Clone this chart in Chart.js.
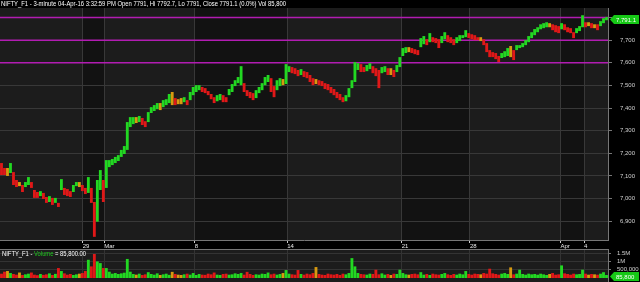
<!DOCTYPE html>
<html>
<head>
<meta charset="utf-8">
<script src="https://cdn.jsdelivr.net/npm/chart.js@4.4.0/dist/chart.umd.min.js"></script>
<style>
  html, body { margin: 0; padding: 0; background: #000; }
  canvas { display: block; }
</style>
</head>
<body>
<canvas id="priceChart" width="640" height="249"></canvas>
<canvas id="volChart" width="640" height="33"></canvas>
<script>
// date axis: labels and where they sit (bar index)
const dateLabels = ['29', 'Mar', '8', '14', '21', '28', 'Apr', '4'];
const dateTicks = [27.1, 34.3, 64.5, 95.4, 133.6, 156.4, 186.6, 194.5];
const priceTicks = [6900, 7000, 7100, 7200, 7300, 7400, 7500, 7600, 7700, 7800];
const hLines = [7600, 7700, 7800];
const volTicks = [500, 1000, 1500];
const volTickLabels = ['500,000', '1M', '1.5M'];

const headerText = 'NIFTY_F1 - 3-minute 04-Apr-16 3:32:59 PM Open 7791, Hi 7792.7, Lo 7791, Close 7791.1 (0.0%) Vol 85,800';
const lastClose = 7791.1;
const lastVolume = 85.8; // thousands

// high / low of each bar
const highs = [
  7157, 7135, 7135, 7157, 7117, 7082, 7073, 7060, 7073, 7095,
  7073, 7038, 7029, 7033, 7025, 7007, 7011, 7003, 7003, 6981,
  7086, 7047, 7042, 7033, 7060, 7073, 7073, 7060, 7047, 7095,
  7047, 6985, 7082, 7126, 7082, 7170, 7170, 7175, 7184, 7192,
  7215, 7232, 7338, 7360, 7360, 7360, 7365, 7356, 7342, 7382,
  7404, 7413, 7422, 7422, 7435, 7439, 7462, 7471, 7444, 7439,
  7444, 7448, 7435, 7471, 7493, 7501, 7501, 7493, 7488, 7475,
  7462, 7448, 7457, 7462, 7457, 7448, 7484, 7506, 7523, 7537,
  7585, 7510, 7479, 7471, 7466, 7479, 7493, 7510, 7537, 7546,
  7532, 7497, 7523, 7532, 7528, 7594, 7585, 7581, 7576, 7568,
  7572, 7563, 7559, 7546, 7532, 7528, 7523, 7519, 7510, 7506,
  7493, 7484, 7471, 7462, 7448, 7457, 7488, 7523, 7603, 7598,
  7594, 7581, 7590, 7598, 7585, 7576, 7568, 7581, 7585, 7576,
  7576, 7568, 7590, 7625, 7665, 7669, 7669, 7665, 7660, 7656,
  7709, 7718, 7704, 7731, 7713, 7709, 7704, 7718, 7735, 7722,
  7713, 7704, 7713, 7722, 7722, 7744, 7731, 7726, 7722, 7713,
  7713, 7704, 7687, 7656, 7647, 7643, 7630, 7643, 7651, 7665,
  7674, 7656, 7678, 7678, 7687, 7700, 7718, 7735, 7749, 7757,
  7770, 7775, 7779, 7775, 7770, 7766, 7762, 7775, 7770, 7757,
  7753, 7735, 7753, 7762, 7810, 7779, 7779, 7775, 7770, 7770,
  7784, 7797, 7802
];
const lows = [
  7104, 7104, 7100, 7113, 7060, 7051, 7055, 7029, 7051, 7060,
  7047, 7003, 7003, 7011, 6998, 6981, 6985, 6972, 6981, 6963,
  7038, 7016, 7011, 7007, 7029, 7055, 7051, 7033, 7020, 7025,
  6981, 6831, 6898, 7038, 6985, 7047, 7139, 7148, 7157, 7166,
  7184, 7197, 7215, 7316, 7329, 7334, 7338, 7325, 7316, 7338,
  7378, 7387, 7395, 7391, 7404, 7413, 7422, 7413, 7413, 7417,
  7417, 7426, 7413, 7435, 7457, 7471, 7479, 7471, 7466, 7457,
  7439, 7422, 7430, 7435, 7426, 7426, 7457, 7471, 7497, 7510,
  7501, 7471, 7453, 7444, 7435, 7444, 7466, 7479, 7501, 7515,
  7471, 7448, 7479, 7497, 7501, 7506, 7559, 7554, 7550, 7541,
  7546, 7537, 7532, 7515, 7501, 7506, 7501, 7497, 7484, 7479,
  7466, 7457, 7444, 7435, 7426, 7430, 7448, 7488, 7515, 7568,
  7559, 7559, 7563, 7572, 7554, 7541, 7488, 7554, 7559, 7546,
  7546, 7537, 7559, 7581, 7630, 7643, 7647, 7643, 7638, 7634,
  7669, 7682, 7678, 7691, 7691, 7687, 7665, 7687, 7704, 7691,
  7687, 7678, 7687, 7696, 7709, 7713, 7709, 7704, 7700, 7700,
  7696, 7678, 7647, 7625, 7625, 7616, 7603, 7621, 7625, 7630,
  7625, 7612, 7656, 7665, 7669, 7678, 7691, 7709, 7722, 7735,
  7748, 7753, 7757, 7757, 7744, 7735, 7731, 7748, 7744, 7735,
  7731, 7709, 7731, 7740, 7757, 7757, 7762, 7753, 7753, 7744,
  7762, 7775, 7788
];
// volume per bar, thousands
const volume = [
  260, 380, 420, 300, 240, 200, 330, 180, 220, 260,
  330, 200, 170, 240, 190, 220, 280, 180, 250, 600,
  420, 280, 200, 240, 180, 220, 260, 300, 420, 1100,
  700, 1450, 1000, 900, 600, 600, 380, 260, 300, 240,
  280, 320, 1150, 380, 240, 200, 260, 180, 220, 350,
  240, 200, 280, 180, 220, 260, 190, 370, 240, 200,
  180, 220, 260, 200, 300, 180, 240, 200, 190, 260,
  220, 330, 200, 180, 240, 260, 200, 220, 280, 240,
  300, 200, 370, 240, 180, 220, 200, 260, 240, 330,
  220, 260, 200, 240, 300, 480, 260, 220, 200, 480,
  240, 200, 260, 220, 300, 660, 240, 200, 180, 260,
  220, 200, 240, 180, 260, 220, 300, 1200, 700, 300,
  240, 220, 200, 260, 240, 500, 220, 280, 200, 240,
  180, 260, 240, 500, 300, 220, 200, 240, 260, 220,
  350, 200, 240, 180, 260, 220, 200, 240, 300, 220,
  180, 240, 200, 260, 220, 420, 240, 200, 260, 240,
  220, 300, 260, 560, 280, 240, 200, 260, 300, 240,
  640, 220, 260, 500, 240, 200, 260, 220, 240, 200,
  260, 220, 180, 240, 300, 200, 220, 760, 280, 240,
  200, 260, 220, 240, 500, 260, 200, 240, 220, 200,
  260, 350, 180
];

const UP = '#22d822', DOWN = '#e01818', FLAT = '#d89a10';
const barColors = highs.map((h, i) => {
  if (i === 0) return DOWN;
  const d = (h + lows[i]) - (highs[i - 1] + lows[i - 1]);
  return d > 6 ? UP : d < -6 ? DOWN : FLAT;
});

const xMin = -0.5, xMax = highs.length - 0.5;
Chart.defaults.font.family = 'Liberation Sans';
Chart.defaults.animation = false;

// keep chart.js from reserving room for edge labels
const noPadX = s => { s.paddingLeft = 0; s.paddingRight = 0; };
const noPadY = s => { s.paddingTop = 0; s.paddingBottom = 0; };

const panelBg = {
  id: 'panelBg',
  beforeDraw(chart, args, opts) {
    const { ctx, chartArea: a } = chart;
    const x = chart.scales.x;
    ctx.save();
    ctx.fillStyle = '#000';
    ctx.fillRect(0, 0, chart.width, chart.height);
    ctx.fillStyle = '#1c1c1c';
    ctx.fillRect(a.left, a.top, a.width, (opts.toBottom ? chart.height : a.bottom) - a.top);
    if (opts.bands) {
      ctx.fillStyle = '#121212';
      for (let k = 0; k + 1 < dateTicks.length; k += 2) {
        const x0 = x.getPixelForValue(dateTicks[k]);
        const x1 = x.getPixelForValue(dateTicks[k + 1]);
        ctx.fillRect(x0, a.top, x1 - x0, a.height);
      }
    }
    ctx.restore();
  }
};

function valueBox(ctx, text, left, y) {
  ctx.save();
  ctx.fillStyle = '#16c816';
  ctx.beginPath();
  ctx.moveTo(left, y);
  ctx.lineTo(left + 4, y - 4.5);
  ctx.lineTo(639, y - 4.5);
  ctx.lineTo(639, y + 4.5);
  ctx.lineTo(left + 4, y + 4.5);
  ctx.closePath();
  ctx.fill();
  ctx.fillStyle = '#ffffff';
  ctx.font = '6px Liberation Sans';
  ctx.textBaseline = 'middle';
  ctx.textAlign = 'left';
  ctx.fillText(text, left + 6, y + 0.5, 26);
  ctx.restore();
}

const priceOverlay = {
  id: 'priceOverlay',
  afterDraw(chart) {
    const { ctx } = chart;
    const y = chart.scales.y.getPixelForValue(lastClose);
    valueBox(ctx, lastClose.toLocaleString('en-US', { minimumFractionDigits: 1 }), chart.chartArea.right + 2, y);
    ctx.save();
    ctx.fillStyle = '#000';
    ctx.fillRect(0, 0, 300, 7);
    ctx.fillStyle = '#ffffff';
    ctx.font = '6.5px Liberation Sans';
    ctx.textBaseline = 'middle';
    ctx.fillText(headerText, 1, 3.8, 285);
    ctx.restore();
  }
};

new Chart(document.getElementById('priceChart'), {
  data: {
    datasets: [
      {
        type: 'bar',
        data: highs.map((h, i) => ({ x: i, y: [lows[i], h] })),
        backgroundColor: barColors,
        borderWidth: 0,
        barPercentage: 0.95,
        categoryPercentage: 1,
        order: 1
      },
      ...hLines.map(v => ({
        type: 'line',
        data: [{ x: xMin, y: v }, { x: xMax, y: v }],
        borderColor: '#b21cb2',
        borderWidth: 1.5,
        pointRadius: 0,
        order: 2
      }))
    ]
  },
  options: {
    responsive: false,
    layout: { padding: { top: 8, left: 0, right: 0, bottom: 0 } },
    plugins: {
      legend: { display: false },
      tooltip: { enabled: false },
      panelBg: { bands: true }
    },
    scales: {
      x: {
        type: 'linear',
        min: xMin,
        max: xMax,
        offset: false,
        afterBuildTicks: s => { s.ticks = dateTicks.map(v => ({ value: v })); },
        afterFit: s => { s.height = 9; noPadX(s); },
        ticks: {
          autoSkip: false,
          maxRotation: 0,
          align: 'start',
          padding: 0,
          color: '#e8e8e8',
          font: { size: 6 },
          callback: (v, i) => dateLabels[i]
        },
        grid: { offset: false, color: '#383838', tickLength: 3, tickColor: '#cfcfcf' },
        border: { color: '#777' }
      },
      y: {
        position: 'right',
        min: 6817,
        max: 7842,
        afterBuildTicks: s => { s.ticks = priceTicks.map(v => ({ value: v })); },
        afterFit: s => { s.width = 32; noPadY(s); },
        ticks: {
          padding: 8,
          color: '#d0d0d0',
          font: { size: 6 },
          callback: v => v.toLocaleString('en-US')
        },
        grid: { color: '#383838', tickLength: 4, tickColor: '#777' },
        border: { color: '#777' }
      }
    }
  },
  plugins: [panelBg, priceOverlay]
});

const volOverlay = {
  id: 'volOverlay',
  afterDraw(chart) {
    const { ctx, chartArea: a } = chart;
    ctx.save();
    ctx.strokeStyle = '#777';
    ctx.lineWidth = 1;
    ctx.beginPath();
    ctx.moveTo(0, 0.5);
    ctx.lineTo(a.right, 0.5);
    ctx.moveTo(a.right + 0.5, 0);
    ctx.lineTo(a.right + 0.5, chart.height);
    ctx.stroke();
    ctx.font = '6.5px Liberation Sans';
    ctx.textBaseline = 'middle';
    const parts = [['NIFTY_F1 - ', '#ffffff'], ['Volume', '#1ec81e'], [' = 85,800.00', '#ffffff']];
    const full = parts.map(p => p[0]).join('');
    const k = Math.min(1, 84 / ctx.measureText(full).width);
    let x = 2;
    parts.forEach(([t, c]) => {
      const w = ctx.measureText(t).width * k;
      ctx.fillStyle = c;
      ctx.fillText(t, x, 5.5, w);
      x += w;
    });
    ctx.restore();
    valueBox(ctx, (lastVolume * 1000).toLocaleString('en-US'), a.right + 2, chart.scales.y.getPixelForValue(lastVolume));
  }
};

new Chart(document.getElementById('volChart'), {
  type: 'bar',
  data: {
    datasets: [{
      data: volume.map((v, i) => ({ x: i, y: v })),
      backgroundColor: barColors,
      borderWidth: 0,
      barPercentage: 0.95,
      categoryPercentage: 1
    }]
  },
  options: {
    responsive: false,
    layout: { padding: { top: 1, left: 0, right: 0, bottom: 4 } },
    plugins: {
      legend: { display: false },
      tooltip: { enabled: false },
      panelBg: { bands: false, toBottom: true }
    },
    scales: {
      x: {
        type: 'linear',
        min: xMin,
        max: xMax,
        offset: false,
        afterBuildTicks: s => { s.ticks = dateTicks.map(v => ({ value: v })); },
        afterFit: s => { s.height = 0; noPadX(s); },
        ticks: { display: false },
        grid: { offset: false, color: '#333', drawTicks: false },
        border: { display: false }
      },
      y: {
        position: 'right',
        min: 0,
        max: 1690,
        afterBuildTicks: s => { s.ticks = volTicks.map(v => ({ value: v })); },
        afterFit: s => { s.width = 32; noPadY(s); },
        ticks: {
          padding: 6,
          color: '#d0d0d0',
          font: { size: 6 },
          callback: (v, i) => volTickLabels[i]
        },
        grid: { color: '#333', tickLength: 3, tickColor: '#777' },
        border: { display: false }
      }
    }
  },
  plugins: [panelBg, volOverlay]
});
</script>
</body>
</html>
